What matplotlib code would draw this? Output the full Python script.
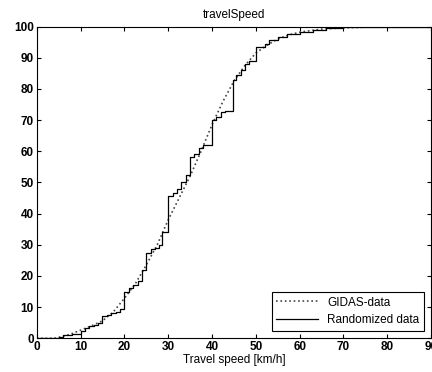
import matplotlib.pyplot as plt
import numpy as np

plt.rcParams['font.family'] = ['Liberation Sans', 'DejaVu Sans']

# GIDAS-Daten (kumulative Verteilung, glatt)
gidas_speed = [0, 4, 5, 7.5, 10, 12.5, 15, 17.5, 20, 22.5, 25, 27.5, 30, 32.5, 35, 37.5,
               40, 42.5, 45, 47.5, 50, 52.5, 55, 57.5, 60, 65, 70, 75, 80, 90]
gidas_pct = [0, 0, 0.3, 1.2, 2.6, 4.0, 5.6, 8.5, 12.8, 17.5, 23.5, 30, 38, 45, 52, 60,
             68.5, 76, 82.5, 87.5, 91.5, 94, 96, 97.3, 98.2, 99.2, 99.6, 99.8, 100, 100]

# zufaellige Stichprobe (Treppenkurve)
rand_speed = [0, 5, 6, 8, 10, 11, 12, 13, 14, 15, 16, 17, 18, 19, 20, 21, 22, 23, 24, 25,
              26, 27, 28, 28.7, 30, 31, 32, 33, 34, 35, 36, 37, 38, 40, 41, 42, 43, 44.7,
              45.5, 46.5, 47.5, 48.5, 50, 52, 53, 55, 57, 60, 63, 66, 70, 75, 90]
rand_pct = [0, 0.5, 1, 1.5, 2.5, 3.2, 3.8, 4.3, 4.8, 7.2, 7.6, 8, 8.5, 9.5, 15, 16, 17.2,
            18.5, 22, 27.5, 28.5, 29, 30, 34, 45.5, 46.5, 48, 50, 52.5, 58, 59, 61, 62, 70,
            71, 72.5, 73, 83, 84.5, 86, 88, 89, 93.5, 94.5, 95.8, 96.5, 97.5, 98.3, 99, 99.5,
            99.8, 100, 100]

fig = plt.figure(figsize=(4.32, 3.72), dpi=100)
ax = fig.add_axes([0.085, 0.0906, 0.913, 0.838])

ax.plot(gidas_speed, gidas_pct, linestyle=':', color='#444444', linewidth=1.2, label='GIDAS-data')
ax.step(rand_speed, rand_pct, where='post', color='black', linewidth=0.9, label='Randomized data')

ax.set_xlim(0, 90)
ax.set_ylim(0, 100)
ax.set_xticks(np.arange(0, 91, 10))
ax.set_yticks(np.arange(0, 101, 10))
ax.tick_params(direction='in', top=True, right=True, labelsize=8.5, length=3, pad=2)
for lbl in ax.get_xticklabels() + ax.get_yticklabels():
    lbl.set_fontweight('bold')

ax.set_title('travelSpeed', fontsize=8.5, pad=6)
ax.set_xlabel('Travel speed [km/h]', fontsize=8.5, labelpad=1)

leg = ax.legend(loc='lower right', fontsize=8.5, fancybox=False, framealpha=1,
                edgecolor='black', borderaxespad=0.6, handlelength=3.5)
leg.get_frame().set_linewidth(0.8)

fig.savefig('out.png', dpi=100)
